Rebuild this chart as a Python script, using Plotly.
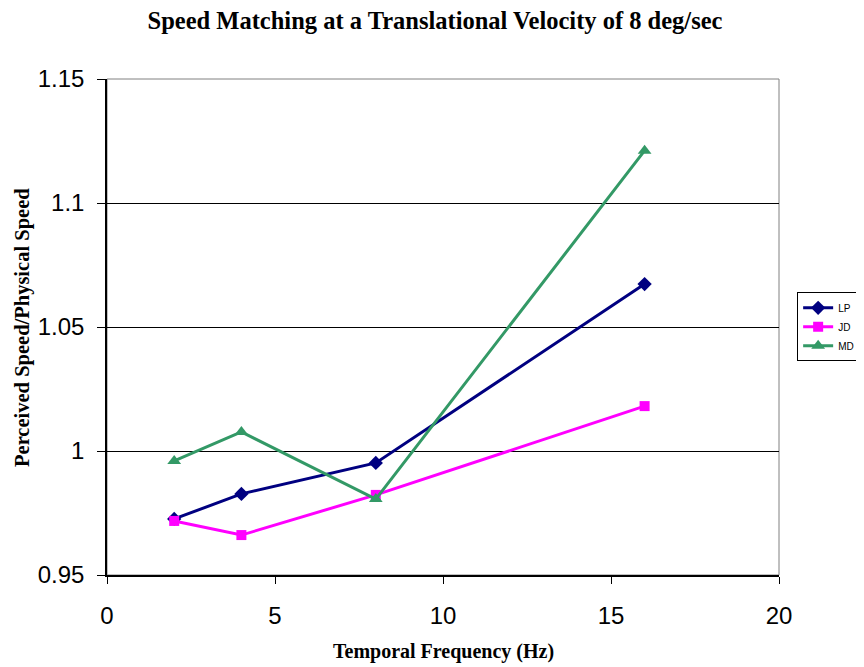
import plotly.graph_objects as go

freq = [2, 4, 8, 16]
lp = [0.9726, 0.9827, 0.9952, 1.0673]
jd = [0.9718, 0.9661, 0.9823, 1.0181]
md = [0.9960, 1.0077, 0.9806, 1.1211]

fig = go.Figure()
fig.add_trace(go.Scatter(x=freq, y=lp, name="LP", mode="lines+markers",
                         line=dict(color="#000080", width=3),
                         marker=dict(symbol="diamond", size=11, color="#000080")))
fig.add_trace(go.Scatter(x=freq, y=jd, name="JD", mode="lines+markers",
                         line=dict(color="#FF00FF", width=3),
                         marker=dict(symbol="square", size=10, color="#FF00FF")))
fig.add_trace(go.Scatter(x=freq, y=md, name="MD", mode="lines+markers",
                         line=dict(color="#339966", width=3),
                         marker=dict(symbol="triangle-up", size=12, color="#339966")))

W, H = 856, 659
fig.update_layout(
    width=W, height=H,
    margin=dict(l=99, r=85, t=71, b=92, autoexpand=False),
    paper_bgcolor="white", plot_bgcolor="white",
    title=dict(text="<b>Speed Matching at a Translational Velocity of 8 deg/sec</b>",
               x=427 / W, xanchor="center", y=1 - 12 / H, yanchor="middle",
               font=dict(family="Liberation Serif", size=24.5, color="black")),
    legend=dict(x=1.027, y=0.57, xanchor="left", yanchor="top",
                bordercolor="black", borderwidth=1, bgcolor="white",
                font=dict(family="Liberation Sans", size=10, color="black"),
                itemwidth=30, tracegroupgap=0),
    showlegend=True,
    annotations=[
        dict(text="<b>Temporal Frequency (Hz)</b>", xref="paper", yref="paper",
             x=0.5, y=-0.155, xanchor="center", yanchor="middle", showarrow=False,
             font=dict(family="Liberation Serif", size=20, color="black")),
        dict(text="<b>Perceived Speed/Physical Speed</b>", xref="paper", yref="paper",
             x=-0.1265, y=0.5, xanchor="center", yanchor="middle", showarrow=False,
             textangle=-90,
             font=dict(family="Liberation Serif", size=20.5, color="black")),
    ],
)
fig.update_xaxes(range=[0, 20], tickvals=[0, 5, 10, 15, 20],
                 showgrid=False, zeroline=False,
                 showline=True, linecolor="black", linewidth=1.5,
                 ticks="outside", ticklen=7, tickcolor="black", ticklabelstandoff=11,
                 tickfont=dict(family="Liberation Sans", size=24, color="black"))
fig.update_yaxes(range=[0.95, 1.15], tickvals=[0.95, 1.0, 1.05, 1.1, 1.15],
                 ticktext=["0.95", "1", "1.05", "1.1", "1.15"],
                 showgrid=True, gridcolor="black", gridwidth=1, zeroline=False,
                 showline=True, linecolor="black", linewidth=1.5,
                 ticks="outside", ticklen=8, tickcolor="black", ticklabelstandoff=8,
                 tickfont=dict(family="Liberation Sans", size=24, color="black"))
fig.add_shape(type="rect", xref="paper", yref="paper", x0=0, y0=0, x1=1, y1=1,
              line=dict(color="#808080", width=1), layer="below")
fig.write_html("out.html")
